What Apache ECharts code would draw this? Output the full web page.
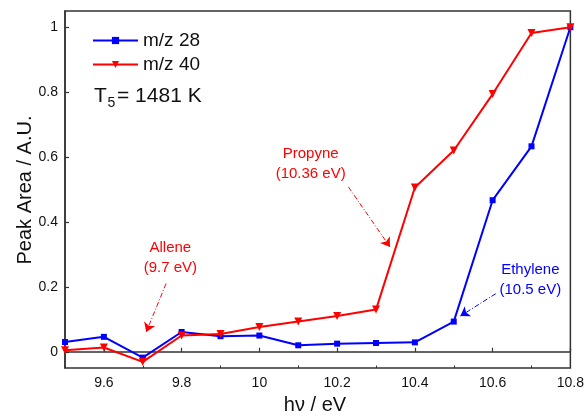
<!DOCTYPE html>
<html>
<head>
<meta charset="utf-8">
<script src="https://cdn.jsdelivr.net/npm/echarts@6/dist/echarts.min.js"></script>
<style>
  html, body { margin: 0; padding: 0; background: #fff; }
  #chart { width: 587px; height: 419px; }
</style>
</head>
<body>
<div id="chart"></div>
<script>
// Photon energy (eV) scan points
const energy = [9.5, 9.6, 9.7, 9.8, 9.9, 10.0, 10.1, 10.2, 10.3, 10.4, 10.5, 10.6, 10.7, 10.8];
// Normalised peak areas
const mz28 = [0.030, 0.046, -0.018, 0.061, 0.048, 0.050, 0.020, 0.025, 0.027, 0.029, 0.093, 0.467, 0.633, 1.000];
const mz40 = [0.005, 0.013, -0.031, 0.050, 0.055, 0.076, 0.093, 0.110, 0.130, 0.506, 0.620, 0.794, 0.982, 1.000];

const xTicks = [9.6, 9.8, 10, 10.2, 10.4, 10.6, 10.8];
const xMinorTicks = [9.5, 9.7, 9.9, 10.1, 10.3, 10.5, 10.7];
const yTicks = [0, 0.2, 0.4, 0.6, 0.8, 1];

const seriesNames = ['m/z 28', 'm/z 40'];

// Ionisation-energy annotations: label position, arrow start, arrow tip
const annotations = [
  { text: 'Allene\n(9.7 eV)', at: [9.771, 0.288], from: [9.760, 0.210], to: [9.709, 0.061], color: '#FF0000' },
  { text: 'Propyne\n(10.36 eV)', at: [10.132, 0.579], from: [10.229, 0.508], to: [10.336, 0.323], color: '#FF0000' },
  { text: 'Ethylene\n(10.5 eV)', at: [10.697, 0.221], from: [10.608, 0.179], to: [10.517, 0.110], color: '#0000FF' }
];

const FONT = 'Liberation Sans, Arial, sans-serif';
const AXIS_COLOR = '#333';

function pairs(xs, ys) { return xs.map((x, i) => [x, ys[i]]); }

function annotationMarks(list) {
  return {
    markLine: {
      silent: true,
      symbol: ['none', 'arrow'],
      symbolSize: 9,
      label: { show: false },
      animation: false,
      lineStyle: { width: 1, type: [5, 2, 1, 2] },
      data: list.map(a => [
        { coord: a.from, lineStyle: { color: a.color }, itemStyle: { color: a.color } },
        { coord: a.to, itemStyle: { color: a.color } }
      ])
    },
    markPoint: {
      silent: true,
      symbol: 'circle',
      symbolSize: 1,
      itemStyle: { color: 'rgba(0,0,0,0)' },
      animation: false,
      data: list.map(a => ({
        coord: a.at,
        label: {
          show: true, position: 'inside', formatter: a.text,
          color: a.color, fontFamily: FONT, fontSize: 15, lineHeight: 20, align: 'center'
        }
      }))
    }
  };
}

const chart = echarts.init(document.getElementById('chart'), null, { renderer: 'canvas' });

chart.setOption({
  animation: false,
  backgroundColor: '#fff',
  grid: {
    left: 65, right: 14, top: 11, bottom: 51,
    show: true, borderColor: AXIS_COLOR, borderWidth: 1.5, backgroundColor: 'transparent'
  },
  legend: {
    orient: 'vertical',
    left: 92, top: 31, padding: 0,
    itemWidth: 45, itemHeight: 9, itemGap: 5,
    data: seriesNames,
    textStyle: { fontFamily: FONT, fontSize: 19, lineHeight: 19, color: '#111' }
  },
  xAxis: [
    {
      type: 'value', min: 9.5, max: 10.8,
      axisLine: { show: true, lineStyle: { color: AXIS_COLOR, width: 1.5 } },
      axisTick: { show: true, inside: true, length: 4, customValues: xTicks, lineStyle: { color: AXIS_COLOR, width: 1.2 } },
      axisLabel: { customValues: xTicks, fontFamily: FONT, fontSize: 14, color: '#111', margin: 8 },
      splitLine: { show: false }
    },
    {
      type: 'value', min: 9.5, max: 10.8, position: 'bottom', gridIndex: 0,
      axisLine: { show: false },
      axisTick: { show: true, inside: true, length: 2.5, customValues: xMinorTicks, lineStyle: { color: AXIS_COLOR, width: 1 } },
      axisLabel: { show: false },
      splitLine: { show: false }
    }
  ],
  yAxis: {
    type: 'value', min: -0.05, max: 1.05,
    axisLine: { show: true, lineStyle: { color: AXIS_COLOR, width: 1.5 } },
    axisTick: { show: true, inside: true, length: 4, customValues: yTicks, lineStyle: { color: AXIS_COLOR, width: 1.2 } },
    axisLabel: { customValues: yTicks, fontFamily: FONT, fontSize: 14, color: '#111', margin: 7 },
    splitLine: { show: false }
  },
  series: [
    Object.assign({
      name: seriesNames[0], type: 'line', xAxisIndex: 0,
      data: pairs(energy, mz28),
      symbol: 'rect', symbolSize: 6,
      lineStyle: { color: '#0000FF', width: 2 },
      itemStyle: { color: '#0000FF' },
      z: 3
    }, annotationMarks(annotations.filter(a => a.color === '#0000FF'))),
    Object.assign({
      name: seriesNames[1], type: 'line', xAxisIndex: 0,
      data: pairs(energy, mz40),
      symbol: 'triangle', symbolRotate: 180, symbolSize: 8,
      lineStyle: { color: '#FF0000', width: 2 },
      itemStyle: { color: '#FF0000' },
      z: 4
    }, annotationMarks(annotations.filter(a => a.color === '#FF0000')))
  ],
  graphic: [
    // axis titles
    {
      type: 'text', x: 25, y: 190, rotation: Math.PI / 2,
      style: { text: 'Peak Area / A.U.', font: '20px ' + FONT, fill: '#111', align: 'center', verticalAlign: 'middle' }
    },
    {
      type: 'text', x: 315, y: 405,
      style: { text: 'h\u03bd / eV', font: '20px ' + FONT, fill: '#111', align: 'center', verticalAlign: 'middle' }
    },
    // temperature tag
    {
      type: 'text', x: 94, y: 96,
      style: { text: 'T', font: '21px ' + FONT, fill: '#111', align: 'left', verticalAlign: 'middle' }
    },
    {
      type: 'text', x: 107.5, y: 103,
      style: { text: '5', font: '14px ' + FONT, fill: '#111', align: 'left', verticalAlign: 'middle' }
    },
    {
      type: 'text', x: 117, y: 96,
      style: { text: '= 1481 K', font: '21px ' + FONT, fill: '#111', align: 'left', verticalAlign: 'middle' }
    }
  ]
});
</script>
</body>
</html>
